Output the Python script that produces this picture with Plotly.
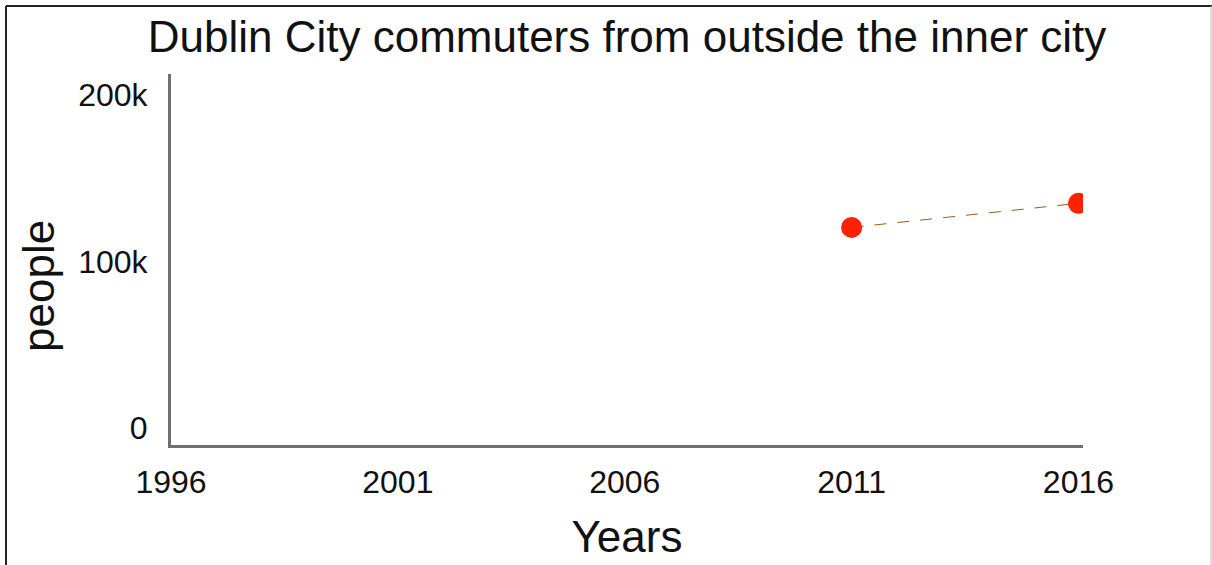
import plotly.graph_objects as go

# Census years and commuter counts (no data before 2011)
years = [1996, 2001, 2006, 2011, 2016]
commuters = [None, None, None, 120500, 135000]
y_tick_vals = [0, 100000, 200000]
y_tick_text = ["0", "100k", "200k"]

W, H = 1212, 565
L, R, T, B = 171, 129, 74, 120
pw, ph = W - L - R, H - T - B


def px(x):
    return (x - L) / pw


def py(y):
    return (H - B - y) / ph


FONT = "Liberation Sans"

fig = go.Figure()
fig.add_trace(go.Scatter(
    x=years, y=commuters,
    mode="lines+markers",
    connectgaps=False,
    line=dict(color="#a05a14", width=1, dash="12px,11px"),
    marker=dict(color="#ff2200", size=21),
    cliponaxis=True,
    showlegend=False,
))

axis_font = dict(family=FONT, size=32, color="#111")

fig.update_layout(
    width=W, height=H,
    margin=dict(l=L, r=R, t=T, b=B, pad=0),
    paper_bgcolor="white", plot_bgcolor="white",
    title=dict(
        text="Dublin City commuters from outside the inner city",
        x=0.5, xref="paper", xanchor="center",
        y=1 - 37 / H, yref="container", yanchor="middle",
        font=dict(family=FONT, size=44, color="#111"),
    ),
    xaxis=dict(
        range=[1996, 2016.1],
        tickvals=years, ticktext=[str(y) for y in years],
        showgrid=False, zeroline=False,
        showline=True, linecolor="#707070", linewidth=3,
        ticks="", ticklabelstandoff=7,
        tickfont=axis_font,
        title=dict(text="Years", font=dict(family=FONT, size=44, color="#111"), standoff=22),
    ),
    yaxis=dict(
        range=[-10240, 212700],
        tickvals=y_tick_vals, ticktext=y_tick_text,
        showgrid=False, zeroline=False,
        showline=True, linecolor="#707070", linewidth=3,
        ticks="", ticklabelstandoff=14,
        tickfont=axis_font,
    ),
    annotations=[
        dict(text="people", textangle=-90, showarrow=False,
             xref="paper", yref="paper", x=px(38), y=py(286),
             xanchor="center", yanchor="middle",
             font=dict(family=FONT, size=44, color="#111")),
    ],
    shapes=[
        # outer frame of the card
        dict(type="line", xref="paper", yref="paper", x0=px(6), x1=px(1212), y0=py(6), y1=py(6),
             line=dict(color="#222", width=2)),
        dict(type="line", xref="paper", yref="paper", x0=px(6), x1=px(6), y0=py(6), y1=py(600),
             line=dict(color="#222", width=2)),
        dict(type="line", xref="paper", yref="paper", x0=px(1211), x1=px(1211), y0=py(6), y1=py(600),
             line=dict(color="#bbb", width=1)),
    ],
)

fig.write_html("out.html")
